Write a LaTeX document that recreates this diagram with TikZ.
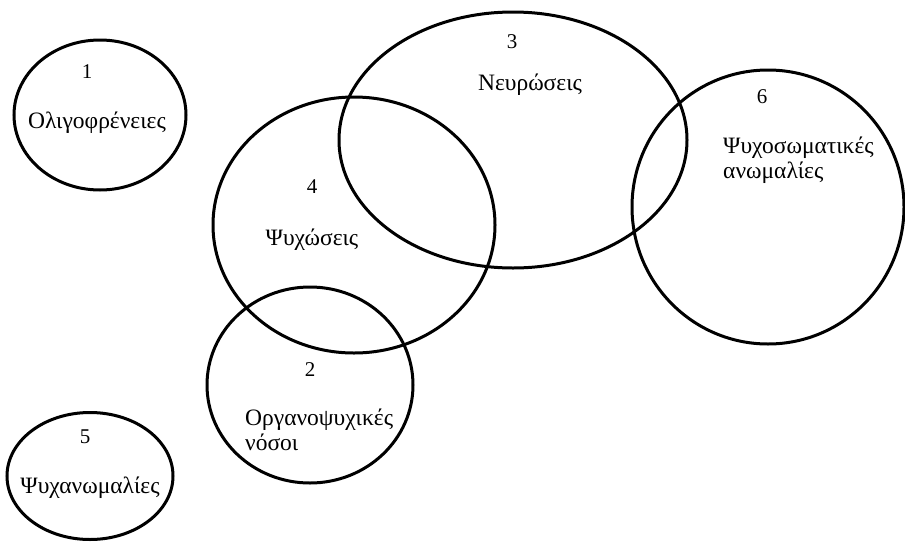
\documentclass[tikz,border=0pt]{standalone}
\usepackage{fontspec}
\setmainfont{Liberation Serif}
\usetikzlibrary{shapes.geometric}
\begin{document}
\begin{tikzpicture}[x=1pt,y=-1pt,
  setshape/.style={draw, ellipse, line width=3pt, inner sep=0pt},
  num/.style={font=\fontsize{21}{23}\selectfont, inner sep=0pt},
  lab/.style={font=\fontsize{23.5}{25}\selectfont, align=left, inner sep=0pt}]
\useasboundingbox (0,0) rectangle (905,544);
% sets
\node[setshape, minimum width=172pt, minimum height=150pt] (c1) at (100,115) {};
\node[setshape, minimum width=348pt, minimum height=256pt] (c3) at (513,140) {};
\node[setshape, minimum width=282pt, minimum height=256pt] (c4) at (354,225) {};
\node[setshape, minimum width=206pt, minimum height=196pt] (c2) at (310,385) {};
\node[setshape, minimum width=166pt, minimum height=127pt] (c5) at (90,476) {};
\node[setshape, minimum width=272pt, minimum height=274pt] (c6) at (768,207) {};
% labels
\node[num] (n1) at (87,72) {1};
\node[lab] (t1) at (97,123) {Ολιγοφρένειες};
\node[num] (n3) at (512,42) {3};
\node[lab] (t3) at (530,85) {Νευρώσεις};
\node[num] (n4) at (312,187) {4};
\node[lab] (t4) at (312,240) {Ψυχώσεις};
\node[num] (n2) at (310,370) {2};
\node[lab, anchor=west] (t2) at (245,430) {Οργανοψυχικές\\νόσοι};
\node[num] (n5) at (85,437) {5};
\node[lab] (t5) at (90,488) {Ψυχανωμαλίες};
\node[num] (n6) at (762,97) {6};
\node[lab, anchor=west] (t6) at (723,160) {Ψυχοσωματικές\\ανωμαλίες};
\end{tikzpicture}
\end{document}
